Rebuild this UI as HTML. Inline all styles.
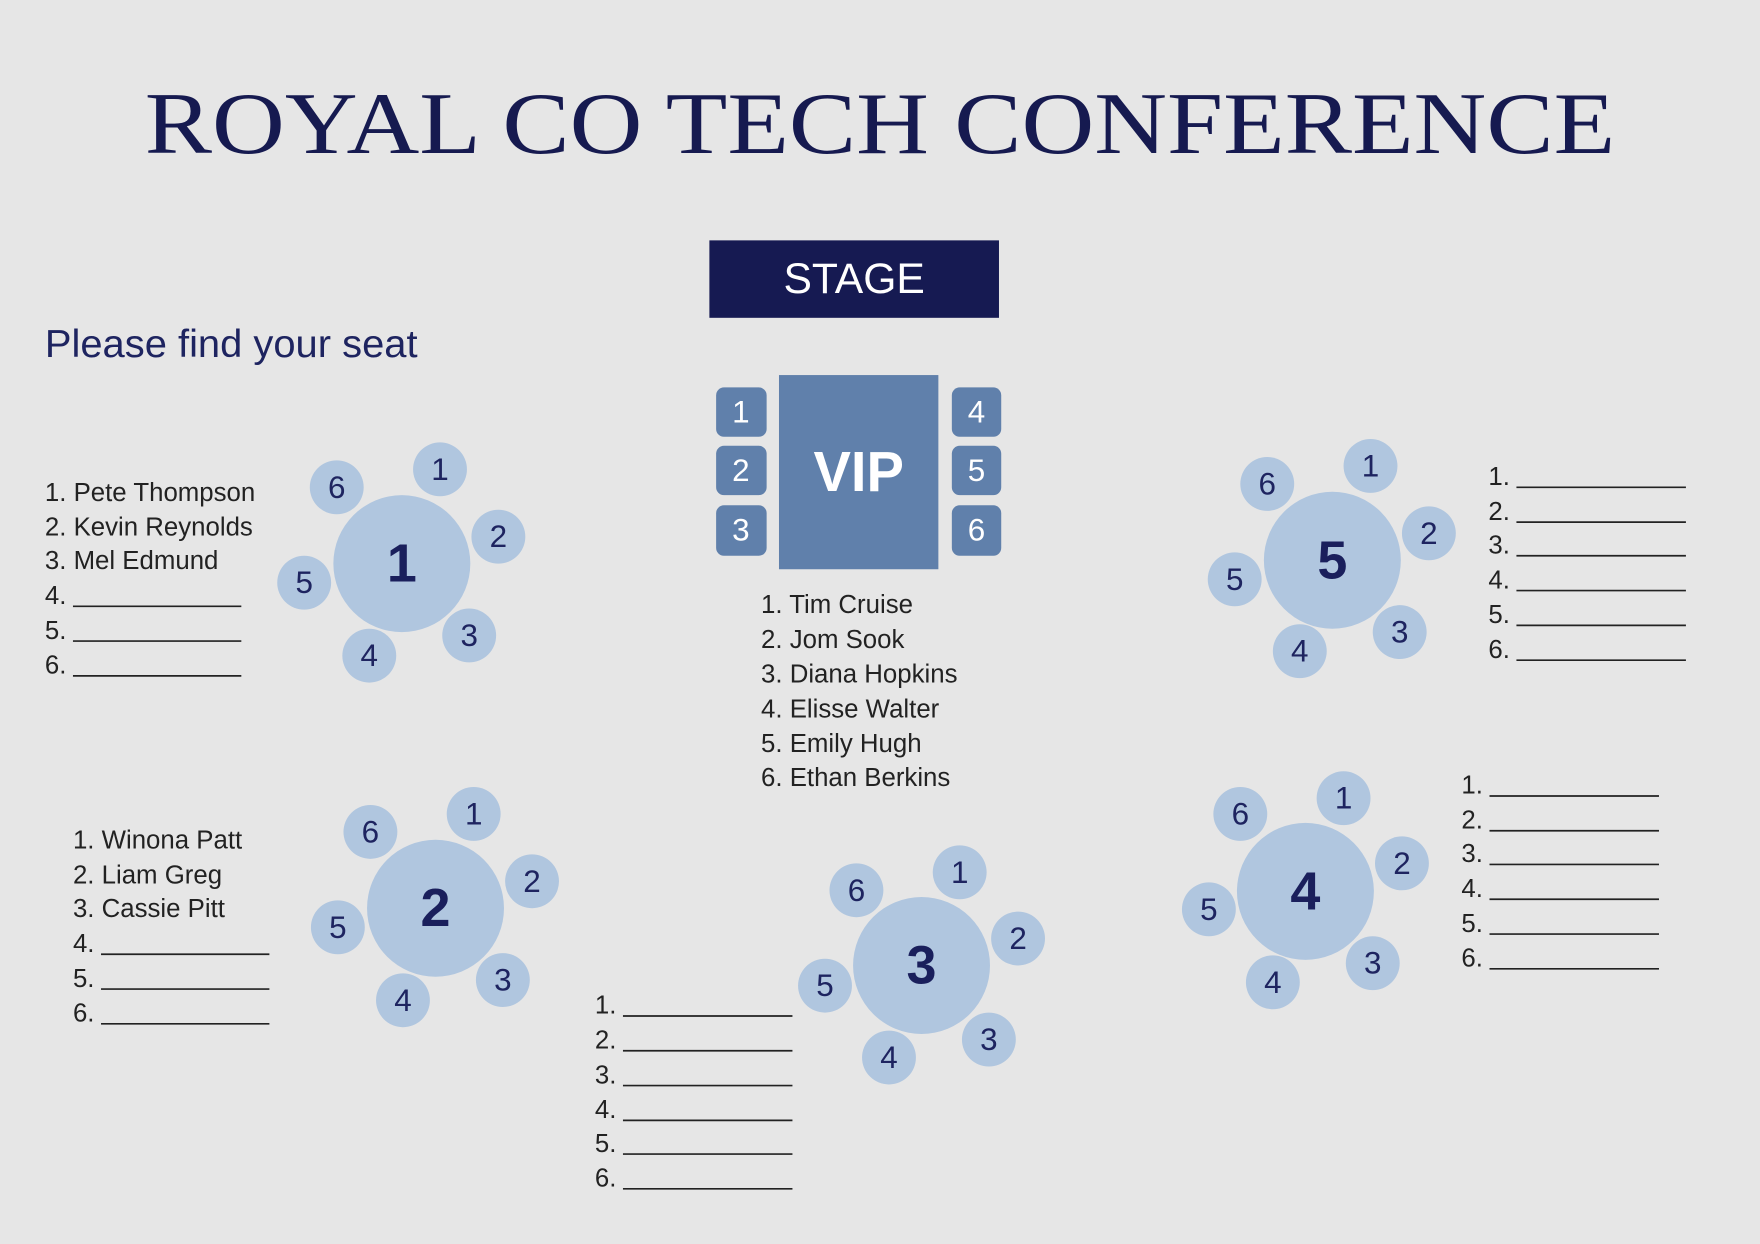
<!DOCTYPE html>
<html><head><meta charset="utf-8"><style>
html,body{margin:0;padding:0;background:#e6e6e6;}
svg{display:block}
.s{fill:#b0c6df}
.sn{font-family:"Liberation Sans",sans-serif;font-size:28px;fill:#1e2460;text-anchor:middle;dominant-baseline:central}
.tn{font-family:"Liberation Sans",sans-serif;font-size:48px;font-weight:bold;fill:#1a1f5c;text-anchor:middle;dominant-baseline:central}
.l{font-family:"Liberation Sans",sans-serif;font-size:23px;fill:#222}
.ln{stroke:#222;stroke-width:1.5}
.v{fill:#6080ab}
.vn{font-family:"Liberation Sans",sans-serif;font-size:28px;fill:#fff;text-anchor:middle;dominant-baseline:central}
</style></head><body>
<svg width="1760" height="1244" viewBox="0 0 1568 1108" xmlns="http://www.w3.org/2000/svg">
<rect width="1568" height="1108" fill="#e6e6e6"/>
<text x="784" y="136" text-anchor="middle" font-family="Liberation Serif,serif" font-size="78" fill="#161a50" textLength="1310" lengthAdjust="spacingAndGlyphs">ROYAL CO TECH CONFERENCE</text>
<rect x="632" y="214" width="258" height="69" fill="#161a52"/>
<text x="761" y="261" text-anchor="middle" font-family="Liberation Sans,sans-serif" font-size="38" fill="#fff">STAGE</text>
<text x="40" y="318" font-family="Liberation Sans,sans-serif" font-size="35" fill="#1e2460" textLength="332" lengthAdjust="spacingAndGlyphs">Please find your seat</text>

<rect x="694" y="334" width="142" height="173" class="v"/>
<text x="765" y="420" text-anchor="middle" dominant-baseline="central" font-family="Liberation Sans,sans-serif" font-size="50" font-weight="bold" fill="#fff">VIP</text>
<rect x="638" y="345" width="45" height="44" rx="7" class="v"/><text x="660" y="367" class="vn">1</text>
<rect x="638" y="397" width="45" height="44" rx="7" class="v"/><text x="660" y="419" class="vn">2</text>
<rect x="638" y="450" width="45" height="45" rx="7" class="v"/><text x="660" y="472" class="vn">3</text>
<rect x="848" y="345" width="44" height="44" rx="7" class="v"/><text x="870" y="367" class="vn">4</text>
<rect x="848" y="397" width="44" height="44" rx="7" class="v"/><text x="870" y="419" class="vn">5</text>
<rect x="848" y="450" width="44" height="45" rx="7" class="v"/><text x="870" y="472" class="vn">6</text>
<text x="678" y="546" class="l">1. Tim Cruise</text>
<text x="678" y="577" class="l">2. Jom Sook</text>
<text x="678" y="608" class="l">3. Diana Hopkins</text>
<text x="678" y="639" class="l">4. Elisse Walter</text>
<text x="678" y="670" class="l">5. Emily Hugh</text>
<text x="678" y="700" class="l">6. Ethan Berkins</text>

<circle cx="358" cy="502" r="61" class="s"/><text x="358" y="502" class="tn">1</text>
<circle cx="392" cy="418" r="24" class="s"/><text x="392" y="418" class="sn">1</text>
<circle cx="444" cy="478" r="24" class="s"/><text x="444" y="478" class="sn">2</text>
<circle cx="418" cy="566" r="24" class="s"/><text x="418" y="566" class="sn">3</text>
<circle cx="329" cy="584" r="24" class="s"/><text x="329" y="584" class="sn">4</text>
<circle cx="271" cy="519" r="24" class="s"/><text x="271" y="519" class="sn">5</text>
<circle cx="300" cy="434" r="24" class="s"/><text x="300" y="434" class="sn">6</text>
<text x="40" y="446" class="l">1. Pete Thompson</text>
<text x="40" y="477" class="l">2. Kevin Reynolds</text>
<text x="40" y="507" class="l">3. Mel Edmund</text>
<text x="40" y="538" class="l">4.</text><line x1="65" y1="540" x2="215" y2="540" class="ln"/>
<text x="40" y="569" class="l">5.</text><line x1="65" y1="571" x2="215" y2="571" class="ln"/>
<text x="40" y="600" class="l">6.</text><line x1="65" y1="602" x2="215" y2="602" class="ln"/>

<circle cx="388" cy="809" r="61" class="s"/><text x="388" y="809" class="tn">2</text>
<circle cx="422" cy="725" r="24" class="s"/><text x="422" y="725" class="sn">1</text>
<circle cx="474" cy="785" r="24" class="s"/><text x="474" y="785" class="sn">2</text>
<circle cx="448" cy="873" r="24" class="s"/><text x="448" y="873" class="sn">3</text>
<circle cx="359" cy="891" r="24" class="s"/><text x="359" y="891" class="sn">4</text>
<circle cx="301" cy="826" r="24" class="s"/><text x="301" y="826" class="sn">5</text>
<circle cx="330" cy="741" r="24" class="s"/><text x="330" y="741" class="sn">6</text>
<text x="65" y="756" class="l">1. Winona Patt</text>
<text x="65" y="787" class="l">2. Liam Greg</text>
<text x="65" y="817" class="l">3. Cassie Pitt</text>
<text x="65" y="848" class="l">4.</text><line x1="90" y1="850" x2="240" y2="850" class="ln"/>
<text x="65" y="879" class="l">5.</text><line x1="90" y1="881" x2="240" y2="881" class="ln"/>
<text x="65" y="910" class="l">6.</text><line x1="90" y1="912" x2="240" y2="912" class="ln"/>

<circle cx="1187" cy="499" r="61" class="s"/><text x="1187" y="499" class="tn">5</text>
<circle cx="1221" cy="415" r="24" class="s"/><text x="1221" y="415" class="sn">1</text>
<circle cx="1273" cy="475" r="24" class="s"/><text x="1273" y="475" class="sn">2</text>
<circle cx="1247" cy="563" r="24" class="s"/><text x="1247" y="563" class="sn">3</text>
<circle cx="1158" cy="580" r="24" class="s"/><text x="1158" y="580" class="sn">4</text>
<circle cx="1100" cy="516" r="24" class="s"/><text x="1100" y="516" class="sn">5</text>
<circle cx="1129" cy="431" r="24" class="s"/><text x="1129" y="431" class="sn">6</text>
<text x="1326" y="432" class="l">1.</text><line x1="1351" y1="434" x2="1502" y2="434" class="ln"/>
<text x="1326" y="463" class="l">2.</text><line x1="1351" y1="465" x2="1502" y2="465" class="ln"/>
<text x="1326" y="493" class="l">3.</text><line x1="1351" y1="495" x2="1502" y2="495" class="ln"/>
<text x="1326" y="524" class="l">4.</text><line x1="1351" y1="526" x2="1502" y2="526" class="ln"/>
<text x="1326" y="555" class="l">5.</text><line x1="1351" y1="557" x2="1502" y2="557" class="ln"/>
<text x="1326" y="586" class="l">6.</text><line x1="1351" y1="588" x2="1502" y2="588" class="ln"/>

<circle cx="1163" cy="794" r="61" class="s"/><text x="1163" y="794" class="tn">4</text>
<circle cx="1197" cy="711" r="24" class="s"/><text x="1197" y="711" class="sn">1</text>
<circle cx="1249" cy="769" r="24" class="s"/><text x="1249" y="769" class="sn">2</text>
<circle cx="1223" cy="858" r="24" class="s"/><text x="1223" y="858" class="sn">3</text>
<circle cx="1134" cy="875" r="24" class="s"/><text x="1134" y="875" class="sn">4</text>
<circle cx="1077" cy="810" r="24" class="s"/><text x="1077" y="810" class="sn">5</text>
<circle cx="1105" cy="725" r="24" class="s"/><text x="1105" y="725" class="sn">6</text>
<text x="1302" y="707" class="l">1.</text><line x1="1327" y1="709" x2="1478" y2="709" class="ln"/>
<text x="1302" y="738" class="l">2.</text><line x1="1327" y1="740" x2="1478" y2="740" class="ln"/>
<text x="1302" y="768" class="l">3.</text><line x1="1327" y1="770" x2="1478" y2="770" class="ln"/>
<text x="1302" y="799" class="l">4.</text><line x1="1327" y1="801" x2="1478" y2="801" class="ln"/>
<text x="1302" y="830" class="l">5.</text><line x1="1327" y1="832" x2="1478" y2="832" class="ln"/>
<text x="1302" y="861" class="l">6.</text><line x1="1327" y1="863" x2="1478" y2="863" class="ln"/>

<circle cx="821" cy="860" r="61" class="s"/><text x="821" y="860" class="tn">3</text>
<circle cx="855" cy="777" r="24" class="s"/><text x="855" y="777" class="sn">1</text>
<circle cx="907" cy="836" r="24" class="s"/><text x="907" y="836" class="sn">2</text>
<circle cx="881" cy="926" r="24" class="s"/><text x="881" y="926" class="sn">3</text>
<circle cx="792" cy="942" r="24" class="s"/><text x="792" y="942" class="sn">4</text>
<circle cx="735" cy="878" r="24" class="s"/><text x="735" y="878" class="sn">5</text>
<circle cx="763" cy="793" r="24" class="s"/><text x="763" y="793" class="sn">6</text>
<text x="530" y="903" class="l">1.</text><line x1="555" y1="905" x2="706" y2="905" class="ln"/>
<text x="530" y="934" class="l">2.</text><line x1="555" y1="936" x2="706" y2="936" class="ln"/>
<text x="530" y="965" class="l">3.</text><line x1="555" y1="967" x2="706" y2="967" class="ln"/>
<text x="530" y="996" class="l">4.</text><line x1="555" y1="998" x2="706" y2="998" class="ln"/>
<text x="530" y="1026" class="l">5.</text><line x1="555" y1="1028" x2="706" y2="1028" class="ln"/>
<text x="530" y="1057" class="l">6.</text><line x1="555" y1="1059" x2="706" y2="1059" class="ln"/>
</svg>
</body></html>
